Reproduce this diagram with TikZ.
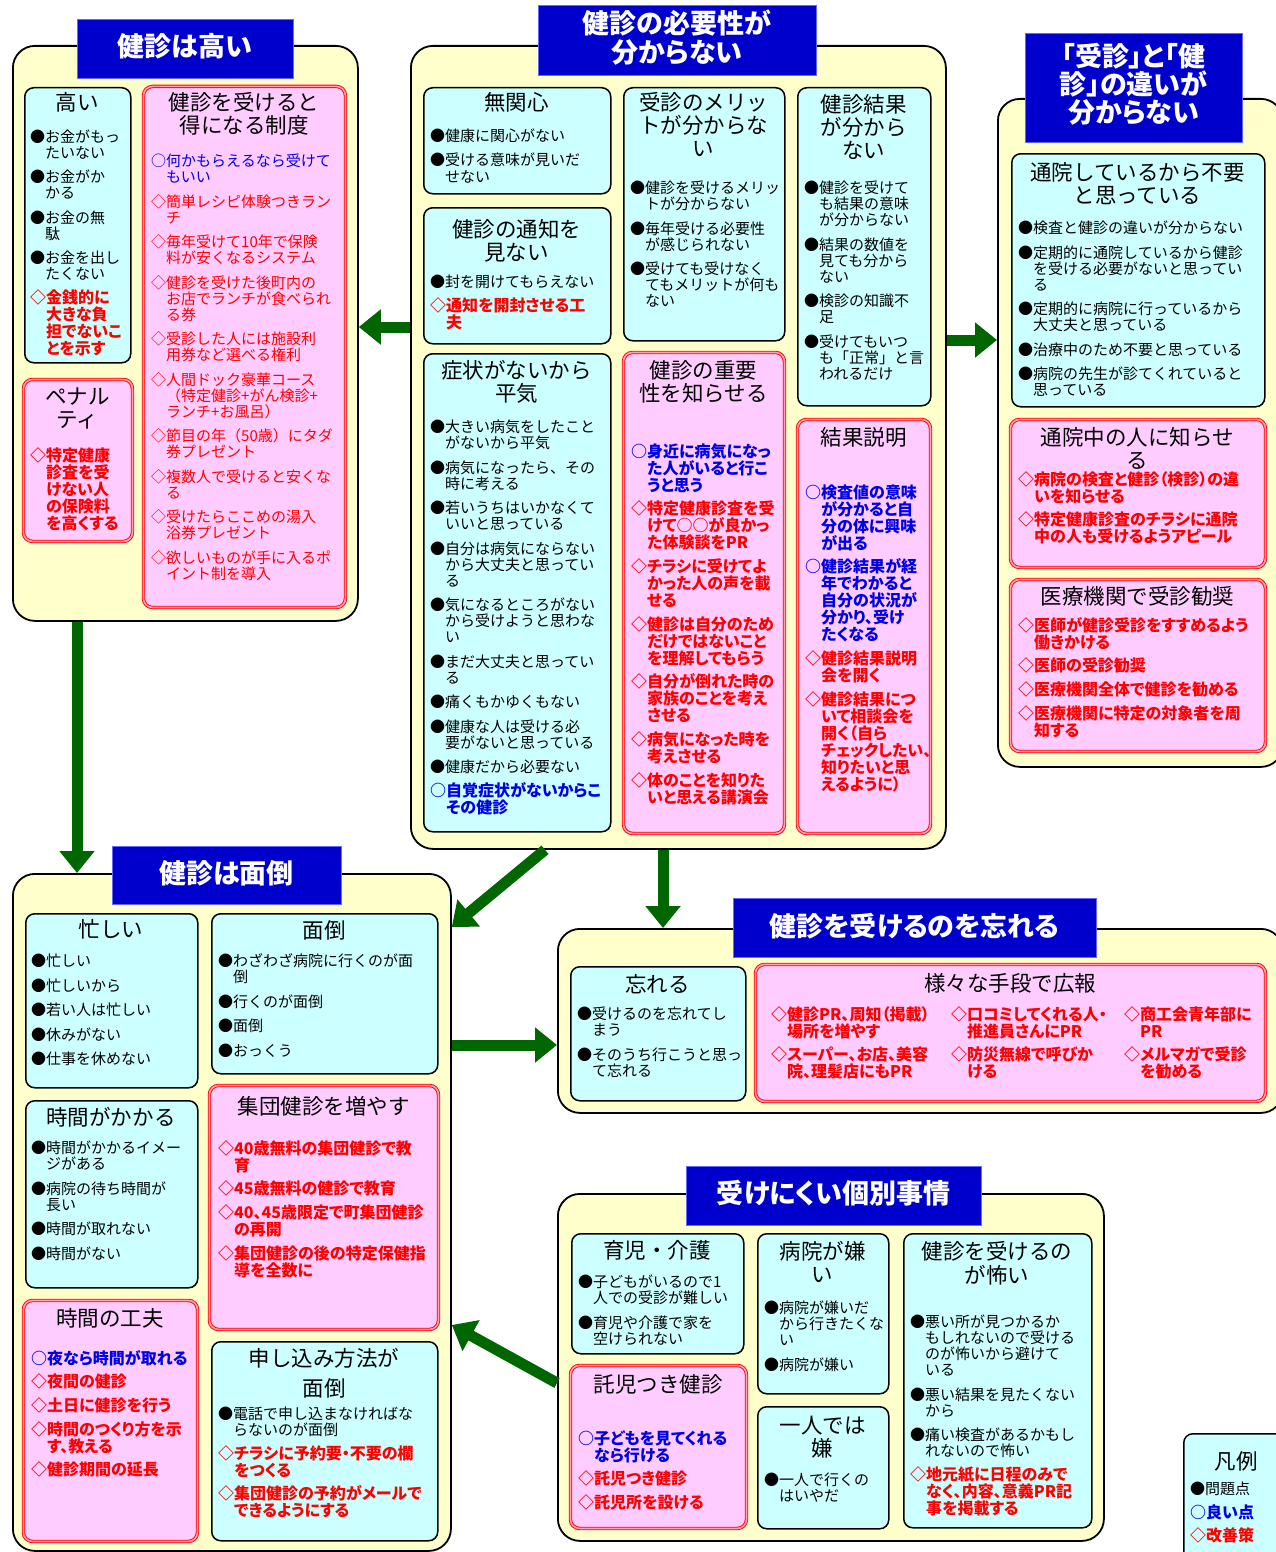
\documentclass[tikz,border=0pt]{standalone}
\usepackage{fontspec}
\setmainfont{Noto Sans CJK JP}
\newfontfamily\jpp{Noto Sans CJK JP}[RawFeature=+palt]
\usetikzlibrary{arrows.meta}
\definecolor{cyel}{HTML}{FFFFCC}
\definecolor{ccyan}{HTML}{CCFFFF}
\definecolor{cpink}{HTML}{FFCCFF}
\definecolor{cred}{HTML}{FF0000}
\definecolor{cblue}{HTML}{0000E6}
\definecolor{ctitle}{HTML}{0000CC}
\definecolor{cgreen}{HTML}{006600}
\definecolor{cdbl}{HTML}{FFA0B4}
\newcommand\ind{\hspace*{1em}}
\newcommand\itK[1]{{\setlength{\parskip}{8.5pt}\leavevmode\fontsize{15}{16}\selectfont #1\par}}
\newcommand\itKR[1]{{\setlength{\parskip}{8.5pt}\leavevmode\color{cred}\fontsize{15}{16}\selectfont #1\par}}
\newcommand\itKB[1]{{\setlength{\parskip}{8.5pt}\leavevmode\color{cblue}\fontsize{15}{16}\selectfont #1\par}}
\newcommand\itBR[1]{{\setlength{\parskip}{6.7pt}\leavevmode\color{cred}\jpp\bfseries\fontsize{16}{17}\selectfont #1\par}}
\newcommand\itBB[1]{{\setlength{\parskip}{6.7pt}\leavevmode\color{cblue}\jpp\bfseries\fontsize{16}{17}\selectfont #1\par}}
\tikzset{
 grp/.style={draw=black, line width=1.8pt, fill=cyel, rounded corners=22pt, anchor=north west, inner sep=0pt},
 ttl/.style={draw=blue!60!white, line width=1pt, fill=ctitle, anchor=north west, inner sep=0pt},
 cbox/.style={draw=black, line width=1.5pt, fill=ccyan, rounded corners=9pt, anchor=north west, inner sep=0pt},
 pbox/.style={draw=cred, double=cdbl, double distance=1.6pt, line width=0.9pt, fill=cpink, rounded corners=9pt, anchor=north west, inner sep=0pt},
 bigt/.style={anchor=base, inner sep=0pt, text=white, align=center, font=\jpp\bfseries\fontsize{27}{29}\selectfont},
 subt/.style={anchor=base, inner sep=0pt, align=center, font=\fontsize{21.5}{23}\selectfont},
 itms/.style={anchor=base west, inner sep=0pt, align=left},
 arr/.style={draw=cgreen, line width=11pt, -{Triangle[length=22pt,width=34pt]}},
}
\begin{document}
\begin{tikzpicture}[x=1pt,y=-1pt]
\useasboundingbox (0,0) rectangle (1275,1552);

% ---------- Group 1
\node[grp, minimum width=345pt, minimum height=575pt] (g1) at (12,45) {};
\node[ttl, minimum width=216pt, minimum height=59pt] (t1) at (77,19) {};
\node[bigt, text width=216pt] (t1x) at (185,57) {健診は高い};
\node[cbox, minimum width=106pt, minimum height=275pt] (b11) at (24,87) {};
\node[subt, text width=104pt] (b11t) at (77,111) {高い};
\node[itms, text width=100pt] (b11i) at (30,142.5) {\itK{●お金がもっ\\\ind たいない}\itK{●お金がか\\\ind かる}\itK{●お金の無\\\ind 駄}\itK{●お金を出し\\\ind たくない}\itBR{◇金銭的に\\\ind 大きな負\\\ind 担でないこ\\\ind とを示す}};
\node[pbox, minimum width=109pt, minimum height=162pt] (b12) at (23,379) {};
\node[subt, text width=105pt] (b12t) at (77.5,404) {ペナル\\ティ};
\node[itms, text width=100pt] (b12i) at (30,461) {\itBR{◇特定健康\\\ind 診査を受\\\ind けない人\\\ind の保険料\\\ind を高くする}};
\node[pbox, minimum width=202pt, minimum height=521pt] (b13) at (143,86) {};
\node[subt, text width=196pt] (b13t) at (244,111) {健診を受けると\\得になる制度};
\node[itms, text width=190pt] (b13i) at (151,166.5) {\itKB{○何かもらえるなら受けて\\\ind もいい}\itKR{◇簡単レシピ体験つきラン\\\ind チ}\itKR{◇毎年受けて10年で保険\\\ind 料が安くなるシステム}\itKR{◇健診を受けた後町内の\\\ind お店でランチが食べられ\\\ind る券}\itKR{◇受診した人には施設利\\\ind 用券など選べる権利}\itKR{◇人間ドック豪華コース\\\ind （特定健診+がん検診+\\\ind ランチ+お風呂）}\itKR{◇節目の年（50歳）にタダ\\\ind 券プレゼント}\itKR{◇複数人で受けると安くな\\\ind る}\itKR{◇受けたらここめの湯入\\\ind 浴券プレゼント}\itKR{◇欲しいものが手に入るポ\\\ind イント制を導入}};

% ---------- Group 2
\node[grp, minimum width=535pt, minimum height=803pt] (g2) at (410,45) {};
\node[ttl, minimum width=278pt, minimum height=70pt] (t2) at (538,5) {};
\node[bigt, text width=278pt] (t2x) at (677,34) {健診の必要性が\\分からない};
\node[cbox, minimum width=187pt, minimum height=106pt] (b21) at (423,87) {};
\node[subt, text width=183pt] (b21t) at (516.5,111) {無関心};
\node[itms, text width=178pt] (b21i) at (430,141.5) {\itK{●健康に関心がない}\itK{●受ける意味が見いだ\\\ind せない}};
\node[cbox, minimum width=187pt, minimum height=136pt] (b22) at (423,207) {};
\node[subt, text width=183pt] (b22t) at (516.5,237) {健診の通知を\\見ない};
\node[itms, text width=178pt] (b22i) at (430,287.5) {\itK{●封を開けてもらえない}\itBR{◇通知を開封させる工\\\ind 夫}};
\node[cbox, minimum width=161pt, minimum height=253pt] (b23) at (623,87) {};
\node[subt, text width=157pt] (b23t) at (703.5,111) {受診のメリッ\\トが分からな\\い};
\node[itms, text width=152pt] (b23i) at (630,193.5) {\itK{●健診を受けるメリッ\\\ind トが分からない}\itK{●毎年受ける必要性\\\ind が感じられない}\itK{●受けても受けなく\\\ind てもメリットが何も\\\ind ない}};
\node[cbox, minimum width=133pt, minimum height=318pt] (b24) at (797,87) {};
\node[subt, text width=129pt] (b24t) at (863.5,113) {健診結果\\が分から\\ない};
\node[itms, text width=124pt] (b24i) at (804,193.5) {\itK{●健診を受けて\\\ind も結果の意味\\\ind が分からない}\itK{●結果の数値を\\\ind 見ても分から\\\ind ない}\itK{●検診の知識不\\\ind 足}\itK{●受けてもいつ\\\ind も「正常」と言\\\ind われるだけ}};
\node[cbox, minimum width=187pt, minimum height=478pt] (b25) at (423,353) {};
\node[subt, text width=183pt] (b25t) at (516.5,378) {症状がないから\\平気};
\node[itms, text width=178pt] (b25i) at (430,432.5) {\itK{●大きい病気をしたこと\\\ind がないから平気}\itK{●病気になったら、その\\\ind 時に考える}\itK{●若いうちはいかなくて\\\ind いいと思っている}\itK{●自分は病気にならない\\\ind から大丈夫と思ってい\\\ind る}\itK{●気になるところがない\\\ind から受けようと思わな\\\ind い}\itK{●まだ大丈夫と思ってい\\\ind る}\itK{●痛くもかゆくもない}\itK{●健康な人は受ける必\\\ind 要がないと思っている}\itK{●健康だから必要ない}\itBB{○自覚症状がないからこ\\\ind その健診}};
\node[pbox, minimum width=161pt, minimum height=481pt] (b26) at (623,352) {};
\node[subt, text width=157pt] (b26t) at (703.5,378) {健診の重要\\性を知らせる};
\node[itms, text width=150pt] (b26i) at (631,457) {\itBB{○身近に病気になっ\\\ind た人がいると行こ\\\ind うと思う}\itBR{◇特定健康診査を受\\\ind けて○○が良かっ\\\ind た体験談をPR}\itBR{◇チラシに受けてよ\\\ind かった人の声を載\\\ind せる}\itBR{◇健診は自分のため\\\ind だけではないこと\\\ind を理解してもらう}\itBR{◇自分が倒れた時の\\\ind 家族のことを考え\\\ind させる}\itBR{◇病気になった時を\\\ind 考えさせる}\itBR{◇体のことを知りた\\\ind いと思える講演会}};
\node[pbox, minimum width=133pt, minimum height=414pt] (b27) at (797,419) {};
\node[subt, text width=129pt] (b27t) at (863.5,445) {結果説明};
\node[itms, text width=124pt] (b27i) at (805,498) {\itBB{○検査値の意味\\\ind が分かると自\\\ind 分の体に興味\\\ind が出る}\itBB{○健診結果が経\\\ind 年でわかると\\\ind 自分の状況が\\\ind 分かり、受け\\\ind たくなる}\itBR{◇健診結果説明\\\ind 会を開く}\itBR{◇健診結果につ\\\ind いて相談会を\\\ind 開く（自ら\\\ind チェックしたい、\\\ind 知りたいと思\\\ind えるように）}};

% ---------- Group 3
\node[grp, minimum width=285pt, minimum height=668pt] (g3) at (997,98) {};
\node[ttl, minimum width=217pt, minimum height=109pt] (t3) at (1025,33) {};
\node[bigt, text width=217pt, font=\jpp\bfseries\fontsize{27}{28}\selectfont] (t3x) at (1133.5,67) {「受診」と「健\\診」の違いが\\分からない};
\node[cbox, minimum width=253pt, minimum height=253pt] (b31) at (1011,153) {};
\node[subt, text width=249pt] (b31t) at (1137.5,180) {通院しているから不要\\と思っている};
\node[itms, text width=244pt] (b31i) at (1018,233.5) {\itK{●検査と健診の違いが分からない}\itK{●定期的に通院しているから健診\\\ind を受ける必要がないと思ってい\\\ind る}\itK{●定期的に病院に行っているから\\\ind 大丈夫と思っている}\itK{●治療中のため不要と思っている}\itK{●病院の先生が診てくれていると\\\ind 思っている}};
\node[pbox, minimum width=255pt, minimum height=148pt] (b32) at (1010,419) {};
\node[subt, text width=249pt] (b32t) at (1137.5,445) {通院中の人に知らせ\\る};
\node[itms, text width=244pt] (b32i) at (1018,485) {\itBR{◇病院の検査と健診（検診）の違\\\ind いを知らせる}\itBR{◇特定健康診査のチラシに通院\\\ind 中の人も受けるようアピール}};
\node[pbox, minimum width=255pt, minimum height=172pt] (b33) at (1010,579) {};
\node[subt, text width=249pt] (b33t) at (1137.5,604) {医療機関で受診勧奨};
\node[itms, text width=244pt] (b33i) at (1018,631) {\itBR{◇医師が健診受診をすすめるよう\\\ind 働きかける}\itBR{◇医師の受診勧奨}\itBR{◇医療機関全体で健診を勧める}\itBR{◇医療機関に特定の対象者を周\\\ind 知する}};

% ---------- Group 4
\node[grp, minimum width=438pt, minimum height=677pt] (g4) at (12,873) {};
\node[ttl, minimum width=229pt, minimum height=58pt] (t4) at (112,846) {};
\node[bigt, text width=229pt] (t4x) at (226.5,883) {健診は面倒};
\node[cbox, minimum width=172pt, minimum height=174pt] (b41) at (25,913) {};
\node[subt, text width=168pt] (b41t) at (111,937) {忙しい};
\node[itms, text width=163pt] (b41i) at (31,966.5) {\itK{●忙しい}\itK{●忙しいから}\itK{●若い人は忙しい}\itK{●休みがない}\itK{●仕事を休めない}};
\node[cbox, minimum width=226pt, minimum height=160pt] (b42) at (211,913) {};
\node[subt, text width=222pt] (b42t) at (324,938) {面倒};
\node[itms, text width=215pt] (b42i) at (218,966.5) {\itK{●わざわざ病院に行くのが面\\\ind 倒}\itK{●行くのが面倒}\itK{●面倒}\itK{●おっくう}};
\node[cbox, minimum width=172pt, minimum height=187pt] (b43) at (25,1100) {};
\node[subt, text width=168pt] (b43t) at (111,1125) {時間がかかる};
\node[itms, text width=163pt] (b43i) at (31,1153.5) {\itK{●時間がかかるイメー\\\ind ジがある}\itK{●病院の待ち時間が\\\ind 長い}\itK{●時間が取れない}\itK{●時間がない}};
\node[pbox, minimum width=229pt, minimum height=244pt] (b44) at (209,1085) {};
\node[subt, text width=225pt] (b44t) at (323.5,1114) {集団健診を増やす};
\node[itms, text width=218pt] (b44i) at (218,1154) {\itBR{◇40歳無料の集団健診で教\\\ind 育}\itBR{◇45歳無料の健診で教育}\itBR{◇40、45歳限定で町集団健診\\\ind の再開}\itBR{◇集団健診の後の特定保健指\\\ind 導を全数に}};
\node[pbox, minimum width=174pt, minimum height=241pt] (b45) at (23,1300) {};
\node[subt, text width=170pt] (b45t) at (110,1326) {時間の工夫};
\node[itms, text width=164pt] (b45i) at (31,1364) {\itBB{○夜なら時間が取れる}\itBR{◇夜間の健診}\itBR{◇土日に健診を行う}\itBR{◇時間のつくり方を示\\\ind す、教える}\itBR{◇健診期間の延長}};
\node[cbox, minimum width=226pt, minimum height=199pt] (b46) at (211,1341) {};
\node[subt, text width=222pt, font=\fontsize{21.5}{30}\selectfont] (b46t) at (324,1366) {申し込み方法が\\面倒};
\node[itms, text width=215pt] (b46i) at (218,1419.5) {\itK{●電話で申し込まなければな\\\ind らないのが面倒}\itBR{◇チラシに予約要・不要の欄\\\ind をつくる}\itBR{◇集団健診の予約がメールで\\\ind できるようにする}};

% ---------- Group 5
\node[grp, minimum width=725pt, minimum height=184pt] (g5) at (557,928) {};
\node[ttl, minimum width=363pt, minimum height=59pt] (t5) at (733,898) {};
\node[bigt, text width=363pt] (t5x) at (914.5,936) {健診を受けるのを忘れる};
\node[cbox, minimum width=175pt, minimum height=134pt] (b51) at (570,966) {};
\node[subt, text width=171pt] (b51t) at (657.5,992) {忘れる};
\node[itms, text width=168pt] (b51i) at (577,1019.5) {\itK{●受けるのを忘れてし\\\ind まう}\itK{●そのうち行こうと思っ\\\ind て忘れる}};
\node[pbox, minimum width=510pt, minimum height=137pt] (b52) at (755,964) {};
\node[subt, text width=500pt] (b52t) at (1010,991) {様々な手段で広報};
\node[itms, text width=175pt] (b52a) at (771,1020) {\itBR{◇健診PR、周知（掲載）\\\ind 場所を増やす}\itBR{◇スーパー、お店、美容\\\ind 院、理髪店にもPR}};
\node[itms, text width=170pt] (b52b) at (951,1020) {\itBR{◇口コミしてくれる人・\\\ind 推進員さんにPR}\itBR{◇防災無線で呼びか\\\ind ける}};
\node[itms, text width=138pt] (b52c) at (1124,1020) {\itBR{◇商工会青年部に\\\ind PR}\itBR{◇メルマガで受診\\\ind を勧める}};

% ---------- Group 6
\node[grp, minimum width=546pt, minimum height=347pt] (g6) at (557,1193) {};
\node[ttl, minimum width=295pt, minimum height=59pt] (t6) at (686,1166) {};
\node[bigt, text width=295pt] (t6x) at (833.5,1203) {受けにくい個別事情};
\node[cbox, minimum width=172pt, minimum height=120pt] (b61) at (571,1233) {};
\node[subt, text width=168pt] (b61t) at (657,1258) {育児・介護};
\node[itms, text width=162pt] (b61i) at (578,1287.5) {\itK{●子どもがいるので1\\\ind 人での受診が難しい}\itK{●育児や介護で家を\\\ind 空けられない}};
\node[pbox, minimum width=176pt, minimum height=163pt] (b62) at (570,1365) {};
\node[subt, text width=172pt] (b62t) at (658,1392) {託児つき健診};
\node[itms, text width=165pt] (b62i) at (578,1444) {\itBB{○子どもを見てくれる\\\ind なら行ける}\itBR{◇託児つき健診}\itBR{◇託児所を設ける}};
\node[cbox, minimum width=131pt, minimum height=160pt] (b63) at (757,1233) {};
\node[subt, text width=127pt] (b63t) at (822.5,1259) {病院が嫌\\い};
\node[itms, text width=124pt] (b63i) at (764,1313.5) {\itK{●病院が嫌いだ\\\ind から行きたくな\\\ind い}\itK{●病院が嫌い}};
\node[cbox, minimum width=131pt, minimum height=122pt] (b64) at (757,1406) {};
\node[subt, text width=127pt] (b64t) at (822.5,1433) {一人では\\嫌};
\node[itms, text width=124pt] (b64i) at (764,1485.5) {\itK{●一人で行くの\\\ind はいやだ}};
\node[cbox, minimum width=188pt, minimum height=294pt] (b65) at (903,1233) {};
\node[subt, text width=184pt, font=\fontsize{21.5}{24}\selectfont] (b65t) at (997,1259) {健診を受けるの\\が怖い};
\node[itms, text width=178pt] (b65i) at (910,1327.5) {\itK{●悪い所が見つかるか\\\ind もしれないので受ける\\\ind のが怖いから避けて\\\ind いる}\itK{●悪い結果を見たくない\\\ind から}\itK{●痛い検査があるかもし\\\ind れないので怖い}\itBR{◇地元紙に日程のみで\\\ind なく、内容、意義PR記\\\ind 事を掲載する}};

% ---------- Legend
\node[cbox, minimum width=110pt, minimum height=130pt] (lg) at (1183,1433) {};
\node[subt, text width=90pt] (lgt) at (1236,1469) {凡例};
\node[itms, text width=85pt] (lgi) at (1190,1494.5) {\itK{●問題点}\itBB{○良い点}\itBR{◇改善策}};

% ---------- Arrows
\draw[arr] (g2.west |- 0,327) -- (g1.east |- 0,327);
\draw[arr] (g2.east |- 0,340) -- (g3.west |- 0,340);
\draw[arr] (g1.south -| 77,0) -- (g4.north -| 77,0);
\draw[arr] (g2.south -| 545,0) -- (g4.east |- 0,927);
\draw[arr] (g2.south -| 663,0) -- (g5.north -| 663,0);
\draw[arr] (g4.east |- 0,1045) -- (g5.west |- 0,1045);
\draw[arr] (g6.west |- 0,1383) -- (g4.east |- 0,1325);
\end{tikzpicture}
\end{document}
